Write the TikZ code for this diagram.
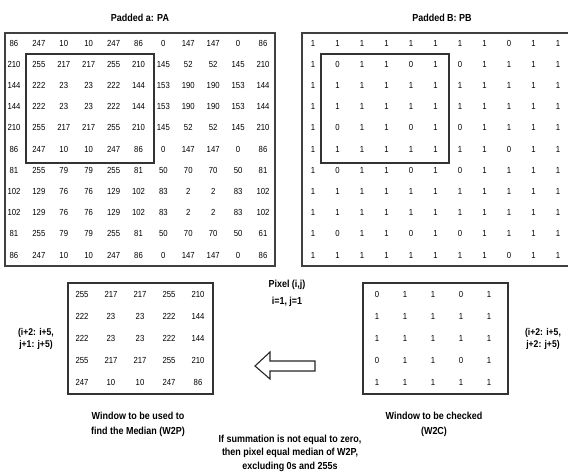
\documentclass[tikz,border=0pt]{standalone}
\usepackage{fontspec}
\setmainfont{Liberation Sans}[FakeStretch=0.88]
\begin{document}
\begin{tikzpicture}[x=1pt,y=-1pt,
  num/.style={font=\fontsize{8.8}{10}\selectfont, inner sep=0pt},
  lbl/.style={font=\fontsize{9.8}{12}\selectfont\bfseries, inner sep=0pt, align=center},
  captxt/.style={font=\fontsize{10.2}{15}\selectfont\bfseries, inner sep=0pt, align=center},
  bigbox/.style={draw=black!75, line width=1.6pt},
  winbox/.style={draw=black!80, line width=1.3pt},
  arrowshape/.style={draw=black!85, line width=1.1pt, fill=white, line join=miter}]
\clip (0,0) rectangle (568,473);
\fill[white] (0,0) rectangle (568,473);

% titles
\node[captxt] (tA) at (140,18) {Padded a: PA};
\node[captxt] (tB) at (442,18) {Padded B: PB};

% grid A
\foreach \row [count=\r] in {
 {86,247,10,10,247,86,0,147,147,0,86},
 {210,255,217,217,255,210,145,52,52,145,210},
 {144,222,23,23,222,144,153,190,190,153,144},
 {144,222,23,23,222,144,153,190,190,153,144},
 {210,255,217,217,255,210,145,52,52,145,210},
 {86,247,10,10,247,86,0,147,147,0,86},
 {81,255,79,79,255,81,50,70,70,50,81},
 {102,129,76,76,129,102,83,2,2,83,102},
 {102,129,76,76,129,102,83,2,2,83,102},
 {81,255,79,79,255,81,50,70,70,50,61},
 {86,247,10,10,247,86,0,147,147,0,86}}{
  \foreach \v [count=\c] in \row {
    \node[num] (a-\r-\c) at ({14+(\c-1)*24.9},{43+(\r-1)*21.2}) {\v};
  }
}
\draw[bigbox] (5,33) rectangle (275,266);
\draw[winbox] (26,54) rectangle (154,163);

% grid B
\foreach \row [count=\r] in {
 {1,1,1,1,1,1,1,1,0,1,1},
 {1,0,1,1,0,1,0,1,1,1,1},
 {1,1,1,1,1,1,1,1,1,1,1},
 {1,1,1,1,1,1,1,1,1,1,1},
 {1,0,1,1,0,1,0,1,1,1,1},
 {1,1,1,1,1,1,1,1,0,1,1},
 {1,0,1,1,0,1,0,1,1,1,1},
 {1,1,1,1,1,1,1,1,1,1,1},
 {1,1,1,1,1,1,1,1,1,1,1},
 {1,0,1,1,0,1,0,1,1,1,1},
 {1,1,1,1,1,1,1,1,0,1,1}}{
  \foreach \v [count=\c] in \row {
    \node[num] (b-\r-\c) at ({313+(\c-1)*24.5},{43+(\r-1)*21.2}) {\v};
  }
}
\draw[bigbox] (302,33) rectangle (574,266);
\draw[winbox] (321,54) rectangle (449,163);

% window W2P
\foreach \row [count=\r] in {
 {255,217,217,255,210},
 {222,23,23,222,144},
 {222,23,23,222,144},
 {255,217,217,255,210},
 {247,10,10,247,86}}{
  \foreach \v [count=\c] in \row {
    \node[num] (p-\r-\c) at ({82+(\c-1)*29},{294+(\r-1)*22.2}) {\v};
  }
}
\draw[winbox] (68,283) rectangle (213,394);

% window W2C
\foreach \row [count=\r] in {
 {0,1,1,0,1},
 {1,1,1,1,1},
 {1,1,1,1,1},
 {0,1,1,0,1},
 {1,1,1,1,1}}{
  \foreach \v [count=\c] in \row {
    \node[num] (w-\r-\c) at ({377+(\c-1)*28},{294+(\r-1)*22.2}) {\v};
  }
}
\draw[winbox] (363,283) rectangle (508,394);

% labels
\node[lbl] (lL) at (36,339) {(i+2: i+5,\\ j+1: j+5)};
\node[lbl] (lR) at (543,339) {(i+2: i+5,\\ j+2: j+5)};
\node[font=\fontsize{10.2}{17}\selectfont\bfseries, inner sep=0pt, align=center] (pix) at (287,293) {Pixel (i,j)\\ i=1, j=1};
\node[captxt] (cL) at (138,424) {Window to be used to\\ find the Median (W2P)};
\node[captxt] (cR) at (434,424) {Window to be checked\\ (W2C)};
\node[font=\fontsize{10.2}{13.5}\selectfont\bfseries, inner sep=0pt, align=center] (note) at (290,453) {If summation is not equal to zero,\\ then pixel equal median of W2P,\\ excluding 0s and 255s};

% hollow arrow
\draw[arrowshape] (315,361) -- (270,361) -- (270,352) -- (255,366) -- (270,379) -- (270,371) -- (315,371) -- cycle;
\end{tikzpicture}
\end{document}
